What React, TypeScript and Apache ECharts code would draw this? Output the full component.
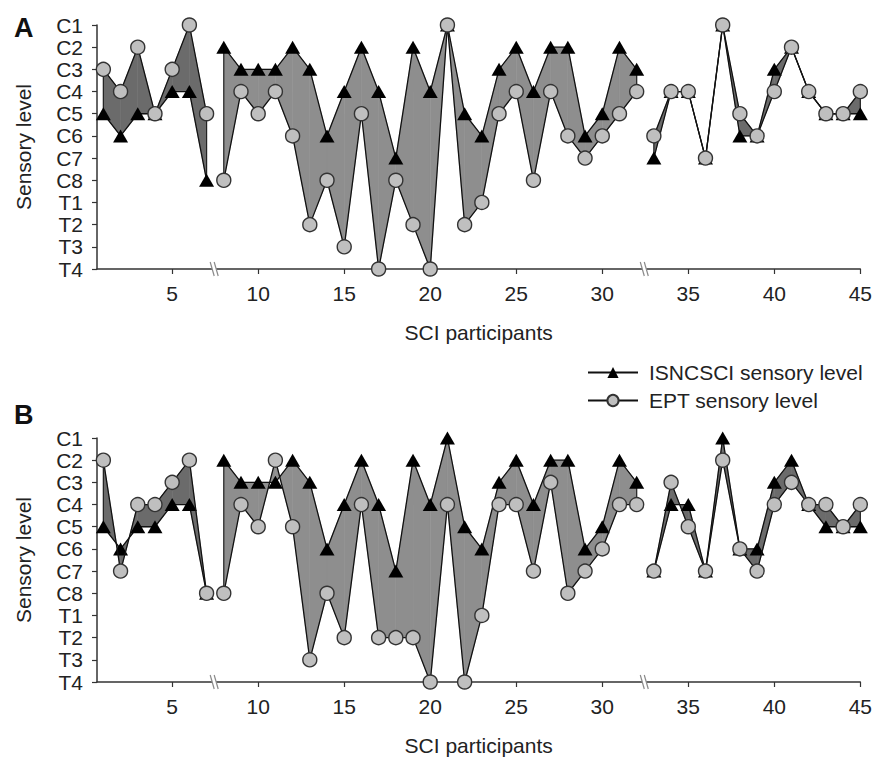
import React, { useEffect, useRef } from "react";
import * as echarts from "echarts";

const LEVELS = ["C1", "C2", "C3", "C4", "C5", "C6", "C7", "C8", "T1", "T2", "T3", "T4"];
const PARTICIPANTS = [
  1, 2, 3, 4, 5, 6, 7, 8, 9, 10, 11, 12, 13, 14, 15, 16, 17, 18, 19, 20, 21, 22, 23,
  24, 25, 26, 27, 28, 29, 30, 31, 32, 33, 34, 35, 36, 37, 38, 39, 40, 41, 42, 43, 44, 45,
];
// last participant of each block (the x axis is broken after them)
const GROUP_ENDS = [7, 32];
const BREAKS = [7.5, 32.5];
const X_TICKS = [5, 10, 15, 20, 25, 30, 35, 40, 45];

const ISNCSCI_A = [
  "C5", "C6", "C5", "C5", "C4", "C4", "C8",
  "C2", "C3", "C3", "C3", "C2", "C3", "C6", "C4", "C2", "C4", "C7", "C2", "C4", "C1", "C5",
  "C6", "C3", "C2", "C4", "C2", "C2", "C6", "C5", "C2", "C3",
  "C7", "C4", "C4", "C7", "C1", "C6", "C6", "C3", "C2", "C4", "C5", "C5", "C5",
];
const EPT_A = [
  "C3", "C4", "C2", "C5", "C3", "C1", "C5",
  "C8", "C4", "C5", "C4", "C6", "T2", "C8", "T3", "C5", "T4", "C8", "T2", "T4", "C1", "T2",
  "T1", "C5", "C4", "C8", "C4", "C6", "C7", "C6", "C5", "C4",
  "C6", "C4", "C4", "C7", "C1", "C5", "C6", "C4", "C2", "C4", "C5", "C5", "C4",
];
const ISNCSCI_B = [
  "C5", "C6", "C5", "C5", "C4", "C4", "C8",
  "C2", "C3", "C3", "C3", "C2", "C3", "C6", "C4", "C2", "C4", "C7", "C2", "C4", "C1", "C5",
  "C6", "C3", "C2", "C4", "C2", "C2", "C6", "C5", "C2", "C3",
  "C7", "C4", "C4", "C7", "C1", "C6", "C6", "C3", "C2", "C4", "C5", "C5", "C5",
];
const EPT_B = [
  "C2", "C7", "C4", "C4", "C3", "C2", "C8",
  "C8", "C4", "C5", "C2", "C5", "T3", "C8", "T2", "C4", "T2", "T2", "T2", "T4", "C4", "T4",
  "T1", "C4", "C4", "C7", "C3", "C8", "C7", "C6", "C4", "C4",
  "C7", "C3", "C5", "C7", "C2", "C6", "C7", "C4", "C3", "C4", "C4", "C5", "C4",
];

const FONT = "'Liberation Sans', Arial, sans-serif";
const FS = 21;
const DARK_FILL = "#6b6b6b";
const LIGHT_FILL = "#8e8e8e";

const lv = (s: string) => LEVELS.indexOf(s) + 1;
const groupOf = (p: number) => (p <= GROUP_ENDS[0] ? 0 : p <= GROUP_ENDS[1] ? 1 : 2);

function lineData(levels: string[]) {
  const out: any[] = [];
  PARTICIPANTS.forEach((p, i) => {
    out.push([p, lv(levels[i])]);
    const bi = GROUP_ENDS.indexOf(p);
    if (bi >= 0) out.push([BREAKS[bi], null]);
  });
  return out;
}

function fillData(s: string[], e: string[]) {
  const out: number[][] = [];
  const n = PARTICIPANTS.length;
  for (let i = 0; i < n - 1; i++) {
    const p0 = PARTICIPANTS[i];
    const p1 = PARTICIPANTS[i + 1];
    const g = groupOf(p0);
    if (g !== groupOf(p1)) continue;
    const isFirst = i === 0 || groupOf(PARTICIPANTS[i - 1]) !== g ? 1 : 0;
    const isLast = i + 2 >= n || groupOf(PARTICIPANTS[i + 2]) !== g ? 1 : 0;
    out.push([p0, lv(s[i]), lv(e[i]), p1, lv(s[i + 1]), lv(e[i + 1]), g, isFirst, isLast]);
  }
  return out;
}

function fillRender(params: any, api: any) {
  const x0 = api.value(0), s0 = api.value(1), e0 = api.value(2);
  const x1 = api.value(3), s1 = api.value(4), e1 = api.value(5);
  const g = api.value(6);
  const isFirst = api.value(7), isLast = api.value(8);
  const color = g === 1 ? LIGHT_FILL : DARK_FILL;
  const P = (x: number, y: number) => api.coord([x, y]);
  const poly = (pts: number[][]) => ({
    type: "polygon",
    shape: { points: pts },
    style: { fill: color, stroke: color, lineWidth: 0.6 },
  });
  const d0 = e0 - s0, d1 = e1 - s1;
  const children: any[] = [];
  if (d0 * d1 < 0) {
    const t = d0 / (d0 - d1);
    const xi = x0 + t * (x1 - x0);
    const yi = s0 + t * (s1 - s0);
    children.push(poly([P(x0, s0), P(xi, yi), P(x0, e0)]));
    children.push(poly([P(xi, yi), P(x1, s1), P(x1, e1)]));
  } else {
    children.push(poly([P(x0, s0), P(x1, s1), P(x1, e1), P(x0, e0)]));
  }
  const edge = (x: number, a: number, b: number) => {
    const pa = P(x, a), pb = P(x, b);
    return { type: "line", shape: { x1: pa[0], y1: pa[1], x2: pb[0], y2: pb[1] }, style: { stroke: "#222", lineWidth: 1.2 } };
  };
  if (isFirst && s0 !== e0) children.push(edge(x0, s0, e0));
  if (isLast && s1 !== e1) children.push(edge(x1, s1, e1));
  return { type: "group", children };
}

function breakRender(params: any, api: any) {
  const c = api.coord([api.value(0), api.value(1)]);
  const cx = c[0], cy = c[1];
  return {
    type: "group",
    children: [
      { type: "polygon", shape: { points: [[cx - 5, cy - 7], [cx - 1, cy - 7], [cx + 3, cy + 7], [cx - 1, cy + 7]] }, style: { fill: "#fff" } },
      { type: "line", shape: { x1: cx - 5, y1: cy - 7, x2: cx - 1, y2: cy + 7 }, style: { stroke: "#8a8a8a", lineWidth: 1.2 } },
      { type: "line", shape: { x1: cx - 1, y1: cy - 7, x2: cx + 3, y2: cy + 7 }, style: { stroke: "#8a8a8a", lineWidth: 1.2 } },
    ],
  };
}

const axisColor = "#333";
const textColor = "#222";

function xAxisFor(gridIndex: number) {
  return {
    type: "value",
    gridIndex,
    min: 0.63,
    max: 45,
    axisLine: { show: true, onZero: false, lineStyle: { color: axisColor, width: 1.5 } },
    axisTick: { show: true, customValues: X_TICKS, length: 5, lineStyle: { color: axisColor, width: 1.2 } },
    axisLabel: { customValues: X_TICKS, fontSize: FS, color: textColor, margin: 14, fontFamily: FONT },
    splitLine: { show: false },
    name: "SCI participants",
    nameLocation: "middle",
    nameGap: 53,
    nameTextStyle: { fontSize: FS, color: textColor, fontFamily: FONT },
  };
}

function yAxisFor(gridIndex: number) {
  return {
    type: "value",
    gridIndex,
    min: 1,
    max: 12,
    interval: 1,
    inverse: true,
    axisLine: { show: true, lineStyle: { color: axisColor, width: 1.5 } },
    axisTick: { show: true, length: 5, lineStyle: { color: axisColor, width: 1.2 } },
    axisLabel: {
      formatter: (v: number) => LEVELS[Math.round(v) - 1] || "",
      fontSize: FS,
      color: textColor,
      margin: 14,
      fontFamily: FONT,
    },
    splitLine: { show: false },
    name: "Sensory level",
    nameLocation: "middle",
    nameGap: 63,
    nameRotate: 90,
    nameTextStyle: { fontSize: FS, color: textColor, fontFamily: FONT },
  };
}

function panelSeries(idx: number, s: string[], e: string[]) {
  return [
    {
      type: "custom",
      xAxisIndex: idx,
      yAxisIndex: idx,
      renderItem: fillRender,
      data: fillData(s, e),
      encode: { x: [0, 3], y: [1, 2, 4, 5] },
      z: 1,
      silent: true,
    },
    {
      type: "line",
      name: "ISNCSCI sensory level",
      xAxisIndex: idx,
      yAxisIndex: idx,
      data: lineData(s),
      connectNulls: false,
      symbol: "triangle",
      symbolSize: [15, 13],
      showAllSymbol: true,
      lineStyle: { color: "#111", width: 1.3 },
      itemStyle: { color: "#000" },
      z: 3,
    },
    {
      type: "line",
      name: "EPT sensory level",
      xAxisIndex: idx,
      yAxisIndex: idx,
      data: lineData(e),
      connectNulls: false,
      symbol: "circle",
      symbolSize: 14,
      showAllSymbol: true,
      lineStyle: { color: "#111", width: 1.3 },
      itemStyle: { color: "#bfbfbf", borderColor: "#333", borderWidth: 1.4 },
      z: 4,
    },
    {
      type: "custom",
      xAxisIndex: idx,
      yAxisIndex: idx,
      renderItem: breakRender,
      data: BREAKS.map((b) => [b, 12]),
      clip: false,
      z: 5,
      silent: true,
    },
  ];
}

export default function App() {
  const ref = useRef<HTMLDivElement>(null);
  useEffect(() => {
    if (!ref.current) return;
    const chart = echarts.init(ref.current, null, { renderer: "svg" });
    chart.setOption({
      animation: false,
      backgroundColor: "#fff",
      textStyle: { fontFamily: FONT },
      title: [
        { text: "A", left: 9, top: 9, textStyle: { fontSize: 27, fontWeight: "bold", color: "#111", fontFamily: FONT } },
        { text: "B", left: 9, top: 396, textStyle: { fontSize: 27, fontWeight: "bold", color: "#111", fontFamily: FONT } },
      ],
      legend: {
        orient: "vertical",
        left: 582,
        top: 357,
        itemWidth: 50,
        itemHeight: 14,
        itemGap: 7,
        data: ["ISNCSCI sensory level", "EPT sensory level"],
        textStyle: { fontSize: FS, color: textColor, fontFamily: FONT, padding: [0, 0, 0, 6] },
        selectedMode: false,
      },
      grid: [
        { left: 97, top: 25, width: 765, height: 244 },
        { left: 97, top: 438, width: 765, height: 244 },
      ],
      xAxis: [xAxisFor(0), xAxisFor(1)],
      yAxis: [yAxisFor(0), yAxisFor(1)],
      series: [...panelSeries(0, ISNCSCI_A, EPT_A), ...panelSeries(1, ISNCSCI_B, EPT_B)],
    });
    return () => chart.dispose();
  }, []);
  return (
    <div
      ref={ref}
      style={{ position: "absolute", left: 0, top: 0, width: 875, height: 757, background: "#fff" }}
    />
  );
}
